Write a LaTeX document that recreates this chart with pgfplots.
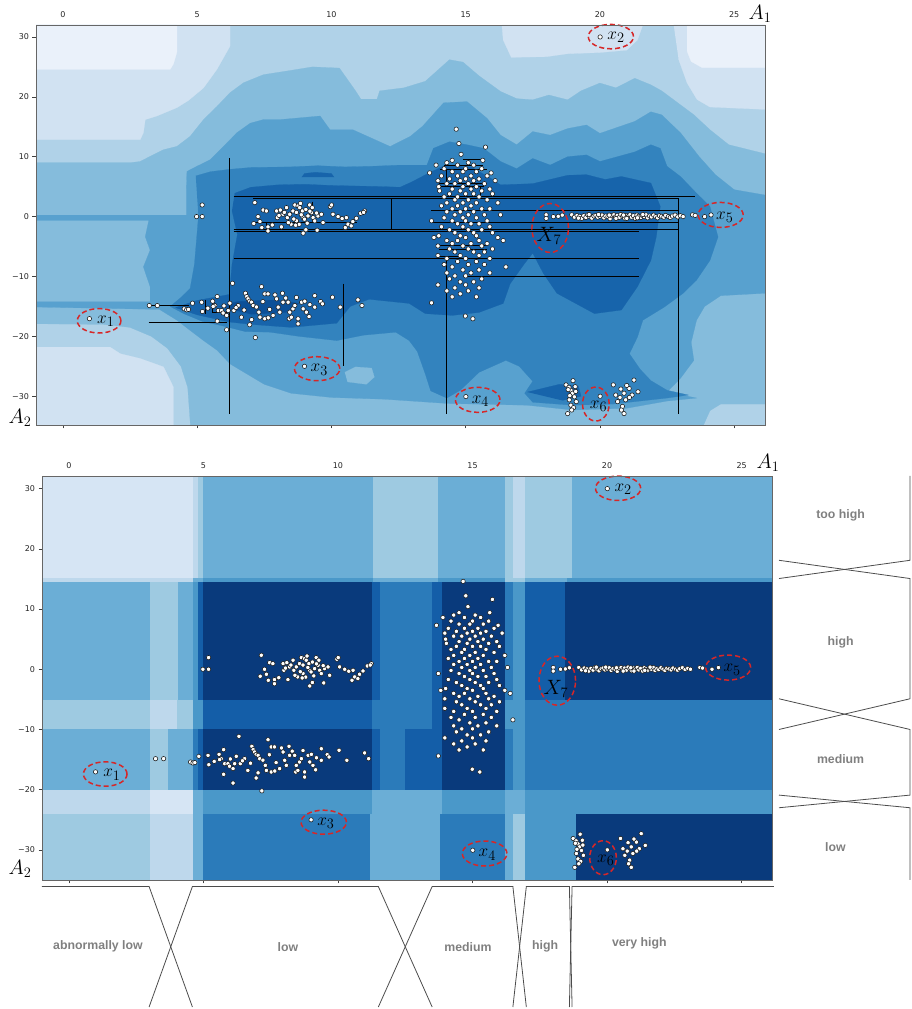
\documentclass[border=0pt]{standalone}
\usepackage{pgfplots}
\pgfplotsset{compat=1.18}
\usepackage{pgfplotstable}
\usepackage{fontspec}
\newfontfamily\dejavu{DejaVu Sans}
\newfontfamily\labfont{Liberation Sans}
\definecolor{c0}{RGB}{234,241,250}
\definecolor{c1}{RGB}{209,226,242}
\definecolor{c2}{RGB}{176,210,232}
\definecolor{c3}{RGB}{133,188,220}
\definecolor{c4}{RGB}{88,161,207}
\definecolor{c5}{RGB}{51,131,190}
\definecolor{c6}{RGB}{23,100,171}
\definecolor{c7}{RGB}{12,80,152}
\definecolor{q1}{RGB}{214,229,244}
\definecolor{q2}{RGB}{190,216,236}
\definecolor{q3}{RGB}{158,202,225}
\definecolor{q4}{RGB}{107,174,214}
\definecolor{q5}{RGB}{74,152,201}
\definecolor{q6}{RGB}{43,123,186}
\definecolor{q7}{RGB}{20,94,168}
\definecolor{q8}{RGB}{9,58,124}
\definecolor{ellred}{RGB}{214,39,40}

\pgfplotstableread{
x y
0.99 -17.04
20.01 30.0
9.0 -25.0
15.01 -30.06
20.01 -30.0
7.15 2.33
7.27 0.0
7.46 1.10
7.58 0.94
7.11 -1.16
7.34 -0.83
7.41 -1.83
7.64 -1.72
7.64 -2.40
7.96 0.94
8.10 1.10
7.99 -0.17
8.14 -1.72
8.20 0.39
8.33 1.50
8.36 -0.17
8.45 0.39
8.57 0.94
8.64 1.94
8.76 1.77
8.82 1.50
8.85 2.20
8.92 0.94
8.70 -0.70
8.80 -1.30
8.67 -1.44
8.50 -1.27
8.95 -0.17
9.00 -0.44
9.13 0.11
9.19 1.94
9.29 1.50
9.26 0.66
9.32 -0.17
9.38 -0.72
8.95 -2.77
9.05 -2.20
9.47 -2.27
9.50 0.11
9.63 0.39
9.69 -1.00
9.96 1.66
10.01 1.94
10.06 0.39
10.25 0.00
10.40 -0.33
10.56 -0.17
10.52 -1.83
10.62 -1.27
10.74 -1.55
10.80 -0.83
10.93 -0.28
11.09 0.55
11.24 0.94
11.20 0.70
8.25 0.70
8.05 0.20
8.60 -0.40
8.88 0.30
9.10 -1.10
9.20 0.90
8.40 -1.00
7.80 -1.40
9.45 0.60
8.70 0.70
9.05 1.20
4.98 0.00
5.19 0.00
5.19 1.94
3.22 -14.85
3.52 -14.85
4.52 -15.40
4.61 -15.57
4.68 -15.50
4.83 -14.46
5.17 -14.30
5.20 -15.85
5.58 -14.13
5.66 -14.85
5.75 -13.35
5.60 -15.00
5.79 -15.68
5.91 -15.68
5.97 -16.10
6.10 -16.50
5.75 -17.45
6.10 -18.90
6.16 -15.68
6.22 -14.46
6.32 -11.14
6.37 -15.68
6.53 -14.85
6.65 -16.80
6.80 -12.80
6.85 -13.35
6.90 -13.74
6.96 -14.13
7.03 -14.30
7.09 -14.85
7.03 -17.20
6.96 -18.06
7.17 -20.20
7.21 -15.10
7.30 -15.96
7.40 -11.70
7.52 -12.90
7.64 -12.90
7.34 -16.80
7.52 -17.06
7.65 -16.90
7.83 -16.50
7.90 -13.07
7.96 -13.74
8.02 -15.12
8.08 -15.96
8.18 -12.80
8.20 -14.30
8.39 -14.30
8.45 -15.96
8.43 -17.06
8.51 -16.80
8.57 -15.40
8.64 -14.85
8.76 -17.06
8.76 -17.90
8.89 -14.30
8.95 -15.40
9.01 -14.13
9.07 -15.96
9.17 -16.70
9.38 -13.20
9.38 -15.12
9.60 -14.18
9.67 -14.57
10.04 -13.46
10.33 -15.12
10.99 -13.90
11.14 -14.85
6.45 -15.20
6.75 -15.60
7.45 -14.20
7.70 -15.50
8.30 -13.60
8.70 -13.50
9.20 -14.70
6.00 -14.90
5.40 -15.30
14.65 14.6
14.75 12.2
15.74 11.6
14.83 10.4
15.64 9.4
14.50 9.4
15.10 9.0
14.30 9.0
13.90 8.6
14.70 8.6
15.30 8.6
14.20 8.0
15.00 8.0
15.60 8.0
14.50 7.5
14.90 7.5
15.40 7.5
13.66 7.3
15.95 7.3
14.10 6.8
14.70 6.8
15.20 6.8
15.80 6.8
14.40 6.3
15.00 6.3
15.50 6.3
13.97 6.0
14.80 6.0
15.30 6.0
16.10 6.0
14.30 5.5
14.60 5.5
15.10 5.5
15.70 5.5
14.00 5.0
14.90 5.0
15.40 5.0
14.50 4.6
15.20 4.6
15.90 4.6
14.03 4.3
14.80 4.3
15.60 4.3
14.40 3.8
15.00 3.8
15.30 3.8
16.00 3.8
14.20 3.3
14.70 3.3
15.50 3.3
14.60 2.8
15.10 2.8
15.80 2.8
14.30 2.3
14.90 2.3
15.40 2.3
16.20 2.3
14.10 1.8
14.70 1.8
15.20 1.8
14.50 1.3
15.00 1.3
15.60 1.3
15.90 1.3
14.30 0.8
14.80 0.8
15.30 0.8
14.60 0.3
15.10 0.3
15.70 0.3
16.30 0.3
14.20 -0.2
14.90 -0.2
15.40 -0.2
13.73 -0.7
14.50 -0.7
15.00 -0.7
15.80 -0.7
14.70 -1.2
15.20 -1.2
15.50 -1.2
14.10 -1.7
14.90 -1.7
15.90 -1.7
14.40 -2.2
15.10 -2.2
15.60 -2.2
14.60 -2.7
15.30 -2.7
16.00 -2.7
14.00 -3.2
14.80 -3.2
15.40 -3.2
13.82 -3.5
15.00 -3.5
16.20 -3.5
14.30 -4.0
14.70 -4.0
15.50 -4.0
16.40 -4.0
14.50 -4.5
15.20 -4.5
15.80 -4.5
13.97 -4.9
14.90 -4.9
15.60 -4.9
14.40 -5.4
15.10 -5.4
16.00 -5.4
14.60 -5.9
15.30 -5.9
15.70 -5.9
13.97 -6.5
14.80 -6.5
15.50 -6.5
14.30 -7.0
15.00 -7.0
15.90 -7.0
14.70 -7.5
15.40 -7.5
14.20 -8.0
15.10 -8.0
15.70 -8.0
14.50 -8.4
16.50 -8.4
14.90 -8.9
15.50 -8.9
14.30 -9.4
15.20 -9.4
15.90 -9.4
14.60 -9.9
15.00 -9.9
14.40 -10.4
15.60 -10.4
14.80 -10.9
15.30 -10.9
13.97 -11.4
15.00 -11.4
14.60 -11.9
15.50 -11.9
14.30 -12.4
15.10 -12.4
14.80 -12.9
14.50 -13.4
15.40 -13.4
13.73 -14.4
14.99 -16.6
15.27 -17.06
18.00 0.30
18.00 -0.30
18.27 0.00
18.45 0.05
18.60 0.25
18.95 0.30
19.05 -0.10
19.15 0.20
19.25 0.05
19.32 -0.30
19.40 0.15
19.48 -0.15
19.55 0.30
19.62 0.00
19.70 -0.25
19.78 0.10
19.85 0.20
19.92 -0.10
20.00 0.05
20.08 0.25
20.15 -0.20
20.22 0.10
20.30 0.00
20.38 -0.35
20.45 0.15
20.52 0.30
20.58 -0.05
20.65 0.20
20.72 -0.15
20.78 0.35
20.85 0.05
20.92 -0.25
20.98 0.20
21.05 0.00
21.12 0.30
21.18 -0.10
21.25 0.15
21.32 -0.30
21.38 0.25
21.45 0.05
21.52 -0.15
21.58 0.20
21.65 0.00
21.72 0.30
21.78 -0.20
21.85 0.10
21.92 -0.05
22.00 0.25
22.08 0.00
22.15 -0.20
22.22 0.15
22.30 0.05
22.38 -0.10
22.45 0.20
22.55 0.00
22.62 -0.15
22.70 0.10
22.80 0.25
22.90 -0.05
23.00 0.15
23.10 0.00
23.45 0.30
23.55 0.20
23.90 0.00
24.14 0.28
20.35 0.25
20.60 -0.30
20.88 0.25
21.00 -0.30
21.40 -0.20
21.60 0.35
19.95 0.35
19.60 0.35
19.20 -0.25
18.74 -28.10
18.85 -28.50
18.92 -29.00
18.98 -29.50
19.05 -30.10
18.86 -30.60
19.00 -27.40
18.92 -31.50
18.80 -32.90
19.10 -29.20
19.12 -30.90
18.88 -29.90
19.02 -31.90
18.95 -32.30
18.82 -28.90
19.08 -28.40
20.50 -28.10
20.78 -28.80
20.90 -29.50
21.09 -28.70
21.27 -27.30
21.42 -29.25
21.20 -29.80
20.96 -30.60
20.84 -31.70
20.90 -32.90
20.66 -30.90
20.59 -29.80
21.00 -28.20
20.75 -30.20
21.10 -30.20
20.80 -32.30
}\pts

\newcommand{\cell}[5]{\addplot[fill=#5,draw=#5,line width=0.2pt] coordinates {(#1,#3) (#2,#3) (#2,#4) (#1,#4)};}

\newcommand{\annot}{%
  \draw[ell] (axis cs:1.35,-17.4) ellipse [x radius=21.8pt, y radius=12.2pt];
  \node[lab] at (axis cs:1.6,-17.5) {$x_1$};
  \draw[ell] (axis cs:20.41,30.06) ellipse [x radius=22.6pt, y radius=12.2pt];
  \node[lab] at (axis cs:20.6,29.9) {$x_2$};
  \draw[ell] (axis cs:9.47,-25.4) ellipse [x radius=22.7pt, y radius=12pt];
  \node[lab] at (axis cs:9.55,-25.6) {$x_3$};
  \draw[ell] (axis cs:15.45,-30.6) ellipse [x radius=22.3pt, y radius=12.5pt];
  \node[lab] at (axis cs:15.55,-30.8) {$x_4$};
  \draw[ell] (axis cs:24.5,0.28) ellipse [x radius=22.5pt, y radius=12.5pt];
  \node[lab] at (axis cs:24.65,-0.1) {$x_5$};
  \draw[ell] (axis cs:19.85,-31.3) ellipse [x radius=13.3pt, y radius=17pt];
  \node[lab] at (axis cs:19.95,-31.7) {$x_6$};
  \draw[ell] (axis cs:18.15,-1.9) ellipse [x radius=18.3pt, y radius=24.5pt];
  \node[lab, font=\fontsize{21}{25}\selectfont] at (axis cs:18.1,-3.2) {$X_7$};
}

\pgfplotsset{
  mainax/.style={
    scale only axis, anchor=south west, clip mode=individual, axis on top,
    xtick={0,5,10,15,20,25}, xticklabels={0,5,10,15,20,25},
    ytick={-30,-20,-10,0,10,20,30}, yticklabels={−30,−20,−10,0,10,20,30},
    xtick pos=bottom, ytick pos=left, xticklabel pos=top,
    tick align=outside, major tick length=3.5pt,
    tick style={black!75, line width=0.6pt},
    tick label style={font=\dejavu\fontsize{8}{9}\selectfont, text=black!85},
    axis line style={black!60, line width=0.8pt},
  },
  ptstyle/.style={only marks, mark=*, mark size=2.2pt, mark options={fill=white, draw=black!90, line width=0.55pt}},
  memb/.style={black!70, line width=0.8pt},
}
\tikzset{
  ell/.style={draw=ellred, line width=1.5pt, dash pattern=on 5pt off 3pt},
  lab/.style={font=\fontsize{19}{22}\selectfont, inner sep=0pt},
  mlab/.style={font=\labfont\bfseries\fontsize{12.3}{14}\selectfont, text=black!50},
}

\begin{document}
\begin{tikzpicture}
\path[use as bounding box] (0pt,0pt) rectangle (911pt,1009pt);

% ---------------- top panel ----------------
\begin{axis}[mainax, at={(36pt,584pt)}, width=729pt, height=400pt,
  xmin=-1, xmax=26.15, ymin=-34.8, ymax=32]
\addplot[fill=c2,draw=c2,line width=0.2pt] coordinates {(-1,-34.8) (26.15,-34.8) (26.15,32) (-1,32)};
\addplot[fill=c1,draw=c1,line width=0.2pt] coordinates {(-1,32) (6.23,32) (6.23,28.5) (5.74,24.6) (5.24,21.5) (4.68,19.4) (4.25,18.2) (3.5,16.8) (3.07,16.2) (3.0,14.0) (2.88,12.85) (-1,12.85)};
\addplot[fill=c1,draw=c1,line width=0.2pt] coordinates {(16.35,32) (16.4,29.5) (16.7,26.6) (18.0,26.7) (18.8,27.2) (20.0,27.4) (21.0,27.8) (21.4,29.5) (21.6,32)};
\addplot[fill=c1,draw=c1,line width=0.2pt] coordinates {(22.75,32) (26.15,32) (26.15,17.9) (24.1,18.3) (23.62,19.55) (23.25,22.3) (22.93,26.3)};
\addplot[fill=c1,draw=c1,line width=0.2pt] coordinates {(-1,-21.8) (1.76,-21.8) (2.14,-22.9) (2.88,-23.7) (3.75,-25.1) (4.12,-28.5) (4.12,-34.8) (-1,-34.8)};
\addplot[fill=c0,draw=c0,line width=0.2pt] coordinates {(-1,32) (4.25,32) (4.25,27.5) (4.12,25.5) (4.0,24.6) (-1,24.6)};
\addplot[fill=c0,draw=c0,line width=0.2pt] coordinates {(23.25,32) (26.15,32) (26.15,24.9) (23.8,24.9) (23.4,25.9) (23.25,27.6)};
% level 3
\addplot[fill=c3,draw=c3,line width=0.2pt] coordinates {(-1,9.0) (2.5,9.0) (2.88,9.2) (3.25,10.06) (3.75,11.17) (4.25,11.73) (4.74,13.4) (5.24,16.2) (5.74,18.4) (6.23,20.7) (6.73,22.35) (7.47,23.7) (8.47,24.4) (9.3,25.0) (10.3,24.8) (10.9,21.0) (11.1,19.6) (11.7,19.6) (11.8,21.0) (12.7,21.5) (13.5,22.6) (14.4,26.2) (14.9,25.8) (15.5,23.5) (16.3,20.9) (16.9,19.7) (17.5,19.5) (18.1,20.3) (18.8,19.5) (19.3,21.0) (20.0,22.3) (20.6,21.5) (21.3,23.1) (21.9,22.0) (22.3,21.0) (22.9,19.0) (23.5,17.0) (24.1,14.5) (24.8,12.0) (26.15,10.5) (26.15,-31.3) (24.5,-31.3) (24.1,-32.4) (23.86,-34.8) (4.75,-34.8) (4.65,-28.5) (4.4,-25) (3.9,-22) (3.3,-20) (2.5,-18.5) (1.5,-18.0) (-1,-17.9)};
% level 4
\addplot[fill=c4,draw=c4,line width=0.2pt] coordinates {(-1,0.25) (4.6,0.25) (4.6,4.5) (4.62,7.54) (4.99,8.4) (5.49,9.5) (5.98,11.7) (6.48,14.0) (6.98,15.6) (7.47,16.2) (8.1,16.2) (9.58,16.8) (9.95,14.5) (10.8,14.5) (12.19,11.7) (12.94,13.4) (13.4,15.1) (14.18,19.0) (15.05,19.2) (15.8,16.4) (16.3,13.6) (16.9,12.0) (17.5,14.2) (18.15,13.6) (18.8,14.7) (19.5,15.3) (20.0,13.9) (21.3,15.9) (21.9,17.5) (22.3,17.0) (23.0,14.0) (23.7,10.0) (24.3,7.0) (25.0,4.5) (26.15,3.6) (26.15,-12.8) (24.5,-13.2) (23.9,-15) (23.6,-17.3) (23.4,-21) (23.5,-24) (23.0,-27) (22.5,-29.3) (23.6,-30.3) (22.5,-30.8) (21,-32) (19,-32.3) (17.3,-31.5) (14.3,-31.2) (12,-30.5) (10,-30.2) (8.5,-29.5) (7.5,-28) (6.23,-24.6) (5.74,-22.3) (5.24,-20.7) (4.74,-19) (4.25,-17.3) (3.6,-15.5) (-1,-15.1) (-1,-14.2) (3.25,-14.2) (3.25,-11.7) (3.0,-8.4) (3.25,-5.6) (3.07,-3.35) (3.2,-0.65) (-1,-0.65)};
\addplot[fill=c3,draw=c3,line width=0.2pt] coordinates {(10.5,-26.0) (10.9,-25.1) (11.5,-25.3) (11.6,-26.8) (11.3,-28.0) (10.6,-27.6)};
% level 5
\addplot[fill=c5,draw=c5,line width=0.2pt] coordinates {(4.95,6.8) (5.5,7.5) (6.23,7.9) (7.0,8.2) (8.47,8.3) (9.5,8.5) (10.5,8.3) (11.5,8.4) (12.56,8.6) (13.56,8.6) (13.8,11.4) (14.4,12.5) (15.05,12.0) (15.67,11.4) (16.3,9.2) (16.9,8.0) (17.5,9.7) (18.15,8.6) (18.8,10.0) (19.5,10.3) (20,9.2) (21.3,10.8) (21.9,12.0) (22.25,11.4) (22.5,8.4) (23.0,6.7) (23.6,3.9) (24.1,1.7) (24.4,-3.4) (24.1,-7.3) (23.6,-10.6) (23.1,-12.8) (22.4,-15.1) (21.6,-17.3) (21.4,-20.1) (21.1,-22.9) (21.5,-25.5) (21.9,-27.4) (22.5,-29.0) (23.3,-29.8) (22.5,-30.3) (21.5,-30.8) (20.5,-31.3) (19,-31.5) (17.5,-31.0) (17.2,-29.5) (17.5,-27.5) (17.0,-25) (16.5,-24) (15.5,-26) (14.8,-29) (14.3,-30.3) (13.7,-29.1) (13.5,-26.3) (13.2,-22.5) (12.9,-20.7) (12.4,-19.3) (11.2,-19.8) (10.2,-20.7) (8.8,-20.0) (7.72,-19.3) (6.8,-19.2) (6.0,-18.3) (5.2,-17.5) (4.5,-16.2) (4.0,-15.0) (4.4,-13.5) (4.74,-12) (4.9,-8) (5.05,0)};
% level 6
\addplot[fill=c6,draw=c6,line width=0.2pt] coordinates {(6.4,3.9) (7.0,4.9) (8.0,5.3) (9.0,5.4) (10.0,5.2) (11.0,5.1) (12.0,5.0) (12.56,4.9) (13.0,5.8) (13.6,7.2) (14.2,8.5) (15.2,8.3) (15.9,6.5) (16.3,5.3) (17.5,5.5) (18.8,6.9) (19.5,7.0) (20.2,6.2) (20.8,6.7) (21.9,5.6) (22.25,1.7) (22.1,-3.4) (21.9,-7.3) (21.4,-11.7) (20.8,-15.6) (19.8,-16.2) (18.4,-12.8) (17.9,-9.5) (17.5,-6.1) (17.2,-7.8) (16.66,-11.2) (16.4,-14.5) (15.5,-16.0) (14.5,-16.5) (13.5,-16.2) (12.9,-14.5) (11.4,-13.8) (10.7,-15.0) (10.2,-17.8) (8.5,-18.5) (7.0,-18.0) (6.2,-17.6) (5.0,-16.4) (4.2,-15.2) (5.0,-14.0) (6.2,-13.0) (6.3,-8) (6.5,-3) (6.3,1)};
\addplot[fill=c6,draw=c6,line width=0.2pt] coordinates {(17.3,-29.3) (18.5,-28.0) (19.2,-28.3) (19.3,-30.0) (18.6,-30.7)};
\addplot[fill=c6,draw=c6,line width=0.2pt] coordinates {(8.9,6.6) (9.0,7.2) (9.4,7.4) (10.0,7.2) (10.1,6.6)};
\addplot[fill=c7,draw=c7,line width=0.2pt] coordinates {(5.8,-15.0) (6.5,-14.2) (8.0,-13.9) (8.8,-14.5) (8.3,-16.0) (7.0,-16.3)};
% partition lines
\addplot[black, line width=0.9pt, unbounded coords=jump] coordinates {
(6.2,9.8) (6.2,-33.0) (nan,nan)
(6.36,3.35) (23.55,3.35) (nan,nan)
(7.1,3.05) (22.93,3.05) (nan,nan)
(22.93,3.05) (22.93,-33.0) (nan,nan)
(12.24,3.0) (12.24,-2.1) (nan,nan)
(7.1,-0.95) (10.95,-0.95) (nan,nan)
(9.31,2.5) (9.31,-0.95) (nan,nan)
(7.6,-0.95) (7.6,-2.1) (nan,nan)
(6.36,-2.1) (22.93,-2.1) (nan,nan)
(6.36,-2.45) (21.44,-2.45) (nan,nan)
(6.36,-7.0) (21.44,-7.0) (nan,nan)
(13.72,1.06) (22.93,1.06) (nan,nan)
(13.74,-0.9) (22.93,-0.9) (nan,nan)
(14.92,-9.95) (21.44,-9.95) (nan,nan)
(14.3,-7.15) (14.3,-33.0) (nan,nan)
(10.46,-11.2) (10.46,-25.0) (nan,nan)
(3.19,-14.8) (4.68,-14.8) (nan,nan)
(5.3,-13.9) (5.3,-16.2) (nan,nan)
(3.19,-17.7) (6.1,-17.7) (nan,nan)
(5.57,-13.9) (5.57,-16.0) (6.1,-16.0) (nan,nan)
(14.92,9.6) (15.66,9.6) (nan,nan)
(14.2,8.6) (15.66,8.6) (nan,nan)
(14.05,7.8) (15.8,7.8) (nan,nan)
(14.3,7.8) (14.3,5.4) (nan,nan)
(13.99,5.5) (15.8,5.5) (nan,nan)
(14.0,5.1) (15.7,5.1) (nan,nan)
(15.55,5.1) (15.55,3.5) (nan,nan)
(14.0,-4.86) (15.8,-4.86) (nan,nan)
(14.0,-5.5) (15.8,-5.5) (nan,nan)
(14.0,-6.6) (14.7,-6.6)
};
\addplot[ptstyle] table {\pts};
\annot
\node[font=\fontsize{21}{24}\selectfont, xshift=-5pt, yshift=11pt] at (rel axis cs:1,1) {$A_1$};
\node[font=\fontsize{21}{24}\selectfont, xshift=-16pt, yshift=7pt] at (rel axis cs:0,0) {$A_2$};
\end{axis}

% ---------------- bottom panel ----------------
\begin{axis}[mainax, at={(42pt,129pt)}, width=730pt, height=404pt,
  xmin=-1, xmax=26.13, ymin=-35, ymax=32.1]
\cell{-1}{4.6}{15.2}{32.1}{q1}
\cell{4.6}{4.8}{15.2}{32.1}{q2}
\cell{4.8}{5.0}{15.2}{32.1}{q3}
\cell{5.0}{11.3}{15.2}{32.1}{q4}
\cell{11.3}{13.7}{15.2}{32.1}{q3}
\cell{13.7}{16.2}{15.2}{32.1}{q4}
\cell{16.2}{16.5}{15.2}{32.1}{q3}
\cell{16.5}{16.95}{15.2}{32.1}{q2}
\cell{16.95}{18.7}{15.2}{32.1}{q3}
\cell{18.7}{26.13}{15.2}{32.1}{q4}
\cell{-1}{4.6}{14.4}{15.2}{q2}
\cell{4.6}{5.0}{14.4}{15.2}{q4}
\cell{5.0}{11.3}{14.4}{15.2}{q5}
\cell{11.3}{13.7}{14.4}{15.2}{q4}
\cell{13.7}{16.2}{14.4}{15.2}{q5}
\cell{16.2}{16.95}{14.4}{15.2}{q3}
\cell{16.95}{18.5}{14.4}{15.2}{q4}
\cell{18.5}{26.13}{14.4}{15.2}{q5}
\cell{-1}{3.0}{-5.2}{14.4}{q4}
\cell{3.0}{4.05}{-5.2}{14.4}{q3}
\cell{4.05}{4.6}{-5.2}{14.4}{q4}
\cell{4.6}{4.8}{-5.2}{14.4}{q5}
\cell{4.8}{5.0}{-5.2}{14.4}{q7}
\cell{5.0}{11.25}{-5.2}{14.4}{q8}
\cell{11.25}{11.55}{-5.2}{14.4}{q7}
\cell{11.55}{13.5}{-5.2}{14.4}{q6}
\cell{13.5}{13.85}{-5.2}{14.4}{q7}
\cell{13.85}{16.2}{-5.2}{14.4}{q8}
\cell{16.2}{16.5}{-5.2}{14.4}{q6}
\cell{16.5}{16.95}{-5.2}{14.4}{q5}
\cell{16.95}{18.45}{-5.2}{14.4}{q7}
\cell{18.45}{26.13}{-5.2}{14.4}{q8}
\cell{-1}{3.0}{-10}{-5.2}{q3}
\cell{3.0}{4.0}{-10}{-5.2}{q2}
\cell{4.0}{4.6}{-10}{-5.2}{q3}
\cell{4.6}{5.0}{-10}{-5.2}{q5}
\cell{5.0}{11.25}{-10}{-5.2}{q7}
\cell{11.25}{13.5}{-10}{-5.2}{q6}
\cell{13.5}{13.85}{-10}{-5.2}{q7}
\cell{13.85}{16.2}{-10}{-5.2}{q8}
\cell{16.2}{16.95}{-10}{-5.2}{q5}
\cell{16.95}{26.13}{-10}{-5.2}{q6}
\cell{-1}{3.0}{-20}{-10}{q4}
\cell{3.0}{3.7}{-20}{-10}{q3}
\cell{3.7}{4.6}{-20}{-10}{q4}
\cell{4.6}{4.8}{-20}{-10}{q6}
\cell{4.8}{5.0}{-20}{-10}{q7}
\cell{5.0}{11.25}{-20}{-10}{q8}
\cell{11.25}{11.55}{-20}{-10}{q7}
\cell{11.55}{12.5}{-20}{-10}{q6}
\cell{12.5}{13.85}{-20}{-10}{q7}
\cell{13.85}{16.2}{-20}{-10}{q8}
\cell{16.2}{16.5}{-20}{-10}{q6}
\cell{16.5}{16.95}{-20}{-10}{q5}
\cell{16.95}{26.13}{-20}{-10}{q6}
\cell{-1}{3.0}{-24}{-20}{q2}
\cell{3.0}{4.6}{-24}{-20}{q1}
\cell{4.6}{5.0}{-24}{-20}{q4}
\cell{5.0}{11.25}{-24}{-20}{q5}
\cell{11.25}{13.85}{-24}{-20}{q4}
\cell{13.85}{16.2}{-24}{-20}{q5}
\cell{16.2}{16.95}{-24}{-20}{q4}
\cell{16.95}{26.13}{-24}{-20}{q5}
\cell{-1}{3.0}{-35}{-24}{q3}
\cell{3.0}{4.6}{-35}{-24}{q2}
\cell{4.6}{5.0}{-35}{-24}{q4}
\cell{5.0}{11.2}{-35}{-24}{q6}
\cell{11.2}{13.8}{-35}{-24}{q4}
\cell{13.8}{16.2}{-35}{-24}{q6}
\cell{16.2}{16.5}{-35}{-24}{q4}
\cell{16.5}{16.95}{-35}{-24}{q3}
\cell{16.95}{18.85}{-35}{-24}{q5}
\cell{18.85}{26.13}{-35}{-24}{q8}
\addplot[ptstyle] table {\pts};
\annot
\node[font=\fontsize{21}{24}\selectfont, xshift=-4pt, yshift=13pt] at (rel axis cs:1,1) {$A_1$};
\node[font=\fontsize{21}{24}\selectfont, xshift=-22pt, yshift=11pt] at (rel axis cs:0,0) {$A_2$};
\end{axis}

% ---------------- right membership ----------------
\begin{axis}[scale only axis, anchor=south west, at={(779pt,129pt)}, width=131pt, height=404pt,
  xmin=0, xmax=1, ymin=-35, ymax=32.1, hide axis, clip=false]
\addplot[memb] coordinates {(1,32.1) (1,18.1) (0,15.07)};
\addplot[memb] coordinates {(0,18.1) (1,15.07) (1,-4.9) (0,-10.0)};
\addplot[memb] coordinates {(0,-4.9) (1,-10.0) (1,-20.9) (0,-23.0)};
\addplot[memb] coordinates {(0,-20.9) (1,-23.0) (1,-35)};
\node[mlab] at (axis cs:0.47,25.5) {too high};
\node[mlab] at (axis cs:0.47,4.4) {high};
\node[mlab] at (axis cs:0.47,-15.0) {medium};
\node[mlab] at (axis cs:0.43,-29.6) {low};
\end{axis}

% ---------------- bottom membership ----------------
\begin{axis}[scale only axis, anchor=south west, at={(42pt,2pt)}, width=730pt, height=120.5pt,
  xmin=-1, xmax=26.13, ymin=0, ymax=1, hide axis, clip=false]
\addplot[memb] coordinates {(-1,1) (2.98,1) (4.59,0)};
\addplot[memb] coordinates {(2.98,0) (4.59,1) (11.5,1) (13.5,0)};
\addplot[memb] coordinates {(11.5,0) (13.5,1) (16.5,1) (17.0,0)};
\addplot[memb] coordinates {(16.5,0) (17.0,1) (18.6,1) (18.7,0)};
\addplot[memb] coordinates {(18.6,0) (18.7,1) (26.2,1)};
\node[mlab] at (axis cs:1.08,0.5) {abnormally low};
\node[mlab] at (axis cs:8.14,0.5) {low};
\node[mlab] at (axis cs:14.83,0.5) {medium};
\node[mlab] at (axis cs:17.7,0.5) {high};
\node[mlab] at (axis cs:21.2,0.53) {very high};
\end{axis}
\end{tikzpicture}
\end{document}
